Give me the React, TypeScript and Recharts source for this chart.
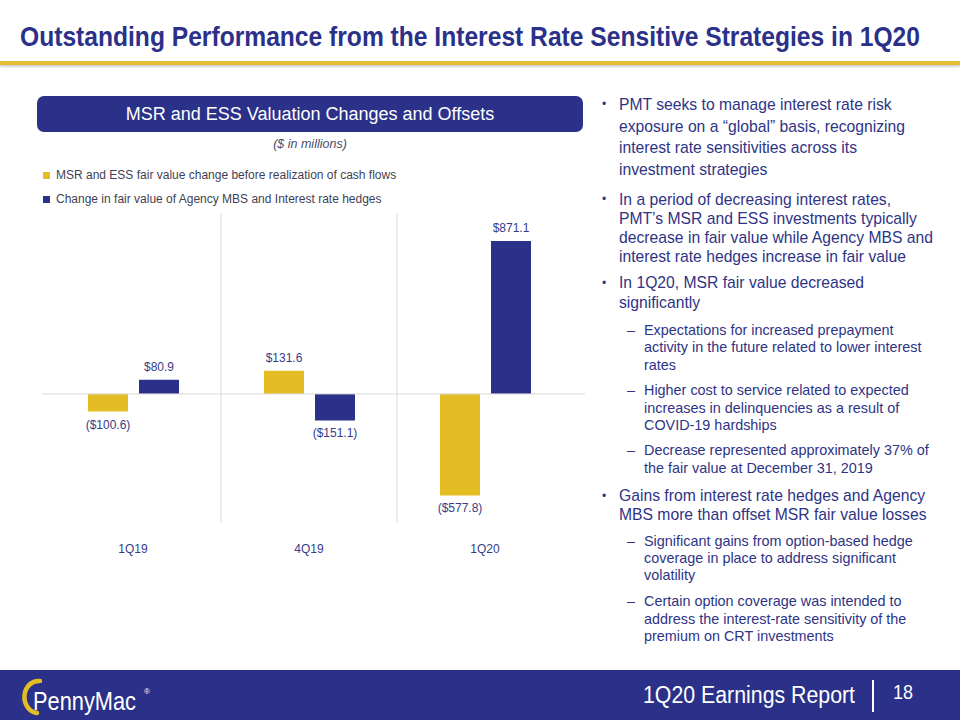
import React from 'react';
import { BarChart, Bar, XAxis, YAxis, CartesianGrid, ReferenceLine, LabelList } from 'recharts';

const NAVY = '#2b3189';
const GOLD = '#e4bd24';
const GRID = '#d9d9d9';
const LABEL = '#363c88';
const TEXT = '#2e3485';
const FONT = "'Liberation Sans', Arial, sans-serif";

// values in $ millions
const quarters = ['1Q19', '4Q19', '1Q20'];
const msrEssChange = [-100.6, 131.6, -577.8];
const hedgeChange = [80.9, -151.1, 871.1];
const seriesNames = [
  'MSR and ESS fair value change before realization of cash flows',
  'Change in fair value of Agency MBS and Interest rate hedges',
];
const seriesColors = [GOLD, NAVY];

const data = quarters.map((q, i) => ({ q, msr: msrEssChange[i], hedge: hedgeChange[i] }));

const PAD_L = 3;
const PAD_R = 12;

const fmt = (v: number) => (v < 0 ? `($${Math.abs(v).toFixed(1)})` : `$${v.toFixed(1)}`);

function ValueLabel(props: any) {
  const { x, y, width, height, value } = props;
  const top = Math.min(Number(y), Number(y) + Number(height));
  const bottom = Math.max(Number(y), Number(y) + Number(height));
  const cy = value < 0 ? bottom + 13 : top - 13;
  return (
    <text x={Number(x) + Number(width) / 2} y={cy} textAnchor="middle" dominantBaseline="central" fill={LABEL} fontSize={12} fontFamily={FONT}>
      {fmt(value)}
    </text>
  );
}

type Para = { kind: 'main' | 'sub'; top: number; lh: number; lines: string[] };

const bullets: Para[] = [
  { kind: 'main', top: 94, lh: 21.7, lines: ['PMT seeks to manage interest rate risk', 'exposure on a \u201cglobal\u201d basis, recognizing', 'interest rate sensitivities across its', 'investment  strategies'] },
  { kind: 'main', top: 189.5, lh: 19, lines: ['In a period of decreasing interest rates,', 'PMT\u2019s MSR and ESS investments typically', 'decrease in fair value while Agency MBS and', 'interest rate hedges increase in fair value'] },
  { kind: 'main', top: 273, lh: 20, lines: ['In 1Q20, MSR fair value decreased', 'significantly'] },
  { kind: 'sub', top: 321.5, lh: 17.5, lines: ['Expectations for increased prepayment', 'activity in the future related to lower interest', 'rates'] },
  { kind: 'sub', top: 382, lh: 17.5, lines: ['Higher cost to service related to expected', 'increases in delinquencies as a result of', 'COVID-19 hardships'] },
  { kind: 'sub', top: 442, lh: 17.8, lines: ['Decrease represented approximately 37% of', 'the fair value at December 31, 2019'] },
  { kind: 'main', top: 487, lh: 18.5, lines: ['Gains from interest rate hedges and Agency', 'MBS more than offset MSR fair value losses'] },
  { kind: 'sub', top: 533, lh: 17.2, lines: ['Significant gains from option-based hedge', 'coverage in place to address significant', 'volatility'] },
  { kind: 'sub', top: 593, lh: 17.5, lines: ['Certain option coverage was intended to', 'address the interest-rate sensitivity of the', 'premium on CRT investments'] },
];

function Bullets() {
  return (
    <>
      {bullets.map((p, i) => {
        const main = p.kind === 'main';
        return (
          <div key={i} style={{ position: 'absolute', top: p.top, left: main ? 602 : 627, color: TEXT, fontFamily: FONT, fontSize: main ? 15.7 : 14.4, lineHeight: `${p.lh}px`, whiteSpace: 'nowrap' }}>
            <span style={{ position: 'absolute', left: 0, top: 0, fontSize: main ? 12 : 14.4 }}>{main ? '\u2022' : '\u2013'}</span>
            <div style={{ marginLeft: 17 }}>
              {p.lines.map((l, j) => (
                <div key={j}>{l}</div>
              ))}
            </div>
          </div>
        );
      })}
    </>
  );
}

function Footer() {
  return (
    <svg width={960} height={50} style={{ position: 'absolute', left: 0, top: 670 }}>
      <rect x={0} y={0} width={960} height={50} fill={NAVY} />
      <path d="M 40 11 A 14 16 0 1 0 37 43" fill="none" stroke={GOLD} strokeWidth={4.5} strokeLinecap="round" />
      <text transform="translate(33,40) scale(1,1.2)" x={0} y={0} fill="#ffffff" fontSize={22} fontFamily={FONT} textLength={103} lengthAdjust="spacingAndGlyphs">PennyMac</text>
      <text x={144} y={24} fill="#ffffff" fontSize={8} fontFamily={FONT}>{'\u00ae'}</text>
      <text x={643} y={33} fill="#ffffff" fontSize={23} fontFamily={FONT} textLength={212} lengthAdjust="spacingAndGlyphs">1Q20 Earnings Report</text>
      <rect x={872} y={10} width={2} height={32} fill="#ffffff" />
      <text x={893} y={29} fill="#ffffff" fontSize={21} fontFamily={FONT} textLength={20} lengthAdjust="spacingAndGlyphs">18</text>
    </svg>
  );
}

export default function App() {
  return (
    <div style={{ position: 'absolute', left: 0, top: 0, width: 960, height: 720, background: '#ffffff', overflow: 'hidden', fontFamily: FONT }}>
      <svg width={960} height={60} style={{ position: 'absolute', left: 0, top: 0 }}>
        <text transform="translate(20,46) scale(1,1.13)" x={0} y={0} fill={NAVY} fontSize={24.6} fontWeight={700} fontFamily={FONT} textLength={900} lengthAdjust="spacingAndGlyphs">
          Outstanding Performance from the Interest Rate Sensitive Strategies in 1Q20
        </text>
      </svg>
      <div style={{ position: 'absolute', left: 0, top: 61, width: 960, height: 4, background: '#e3bd33', boxShadow: '0 2px 2px rgba(0,0,0,0.18)' }} />

      <div style={{ position: 'absolute', left: 37, top: 96, width: 546, height: 36, borderRadius: 7, background: NAVY, color: '#ffffff', fontSize: 18, lineHeight: '36px', textAlign: 'center' }}>
        MSR and ESS Valuation Changes and Offsets
      </div>
      <div style={{ position: 'absolute', left: 37, top: 136, width: 546, textAlign: 'center', fontStyle: 'italic', fontSize: 12.5, color: '#4b4b6b', lineHeight: '16px' }}>
        ($ in millions)
      </div>

      {seriesNames.map((name, i) => (
        <div key={name} style={{ position: 'absolute', left: 43, top: 167 + i * 24, height: 16, display: 'flex', alignItems: 'center', fontSize: 12, color: '#3f3f55', whiteSpace: 'nowrap' }}>
          <span style={{ width: 7, height: 7, background: seriesColors[i], marginRight: 6 }} />
          {name}
        </div>
      ))}

      <div style={{ position: 'absolute', left: 0, top: 150 }}>
        <BarChart width={600} height={420} data={data} margin={{ top: 63, right: 15, bottom: 17, left: 42 }} barSize={40} barGap={11}>
          <CartesianGrid
            horizontal={false}
            stroke={GRID}
            verticalCoordinatesGenerator={(args: any) => {
              const o = args.offset;
              const start = o.left + PAD_L;
              const band = (o.width - PAD_L - PAD_R) / quarters.length;
              return quarters.slice(1).map((_, i) => start + band * (i + 1));
            }}
          />
          <XAxis dataKey="q" height={30} padding={{ left: PAD_L, right: PAD_R }} axisLine={false} tickLine={false} tickSize={0} tickMargin={21} tick={{ fill: LABEL, fontSize: 12, fontFamily: FONT }} interval={0} />
          <YAxis hide domain={[-735, 1030]} />
          <ReferenceLine y={0} stroke={GRID} strokeWidth={1} />
          <Bar dataKey="msr" name={seriesNames[0]} fill={GOLD} isAnimationActive={false}>
            <LabelList dataKey="msr" content={ValueLabel} />
          </Bar>
          <Bar dataKey="hedge" name={seriesNames[1]} fill={NAVY} isAnimationActive={false}>
            <LabelList dataKey="hedge" content={ValueLabel} />
          </Bar>
        </BarChart>
      </div>

      <Bullets />
      <Footer />
    </div>
  );
}
